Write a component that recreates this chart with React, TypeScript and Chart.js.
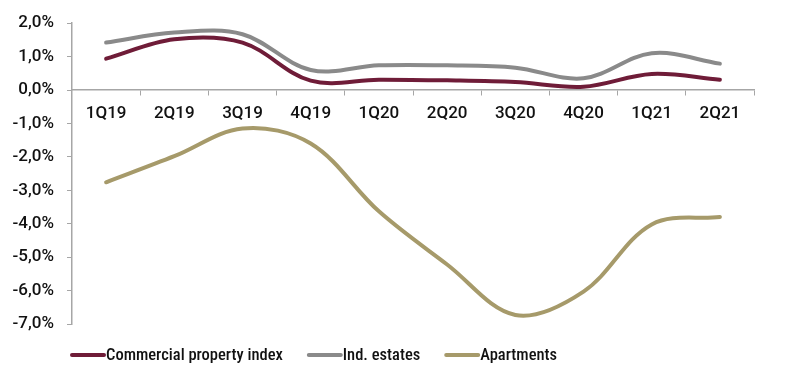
import { useEffect, useRef } from "react";
import { Chart, registerables } from "chart.js";

Chart.register(...registerables);

const categories = ["1Q19", "2Q19", "3Q19", "4Q19", "1Q20", "2Q20", "3Q20", "4Q20", "1Q21", "2Q21"];
const commercial = [0.94, 1.52, 1.42, 0.28, 0.31, 0.29, 0.24, 0.1, 0.48, 0.31];
const indEstates = [1.42, 1.72, 1.67, 0.6, 0.74, 0.74, 0.67, 0.35, 1.1, 0.79];
const apartments = [-2.76, -1.98, -1.15, -1.6, -3.63, -5.22, -6.73, -6.03, -4.02, -3.8];
const seriesNames = ["Commercial property index", "Ind. estates", "Apartments"];
const seriesColors = ["#6f1c38", "#8a8a8a", "#a69a6a"];

const TICK_FONT = "Roboto, 'Roboto Condensed', sans-serif";
const LEGEND_FONT = "'Roboto Condensed', Roboto, sans-serif";

const legendPlugin = {
  id: "customLegend",
  afterDraw(chart: any) {
    const { ctx, chartArea } = chart;
    ctx.save();
    ctx.font = `500 16.5px ${LEGEND_FONT}`;
    ctx.textBaseline = "middle";
    const y = chartArea.bottom + 31;
    let x = chartArea.left - 2;
    chart.data.datasets.forEach((ds: any) => {
      ctx.strokeStyle = ds.borderColor;
      ctx.lineWidth = 4;
      ctx.lineCap = "round";
      ctx.beginPath();
      ctx.moveTo(x + 2, y);
      ctx.lineTo(x + 34, y);
      ctx.stroke();
      ctx.fillStyle = "#111";
      ctx.fillText(ds.label, x + 36, y + 1);
      x += 36 + ctx.measureText(ds.label).width + 24;
    });
    ctx.restore();
  },
};

export default function App() {
  const ref = useRef<HTMLCanvasElement>(null);
  useEffect(() => {
    document.body.style.margin = "0";
    const data = [commercial, indEstates, apartments];
    const chart = new Chart(ref.current!, {
      type: "line",
      data: {
        labels: categories,
        datasets: data.map((d, i) => ({
          label: seriesNames[i],
          data: d,
          borderColor: seriesColors[i],
          backgroundColor: seriesColors[i],
          borderWidth: 4,
          pointRadius: 0,
          tension: 0.35,
          borderCapStyle: "round" as const,
        })),
      },
      options: {
        animation: false,
        responsive: false,
        layout: { padding: { top: 14, bottom: 61, right: 46, left: 0 } },
        plugins: { legend: { display: false }, tooltip: { enabled: false } },
        scales: {
          x: {
            position: { y: 0 } as any,
            offset: true,
            grid: { drawOnChartArea: false, offset: true, tickLength: 5, color: "#a6a6a6" },
            border: { color: "#a6a6a6", width: 1.5 },
            ticks: { font: { family: TICK_FONT, size: 17, weight: 500 }, color: "#111", padding: 9, maxRotation: 0 },
          },
          y: {
            min: -7,
            max: 2,
            afterFit: (s: any) => {
              s.width = 72;
            },
            grid: { drawOnChartArea: false, tickLength: 5, color: "#a6a6a6" },
            border: { color: "#a6a6a6", width: 1.5 },
            ticks: {
              stepSize: 1,
              font: { family: TICK_FONT, size: 17, weight: 500 },
              color: "#111",
              padding: 13,
              callback: (v: any) => Number(v).toFixed(1).replace(".", ",") + "%",
            },
          },
        },
      },
      plugins: [legendPlugin],
    });
    return () => chart.destroy();
  }, []);
  return <canvas ref={ref} width={800} height={385} style={{ display: "block" }} />;
}
